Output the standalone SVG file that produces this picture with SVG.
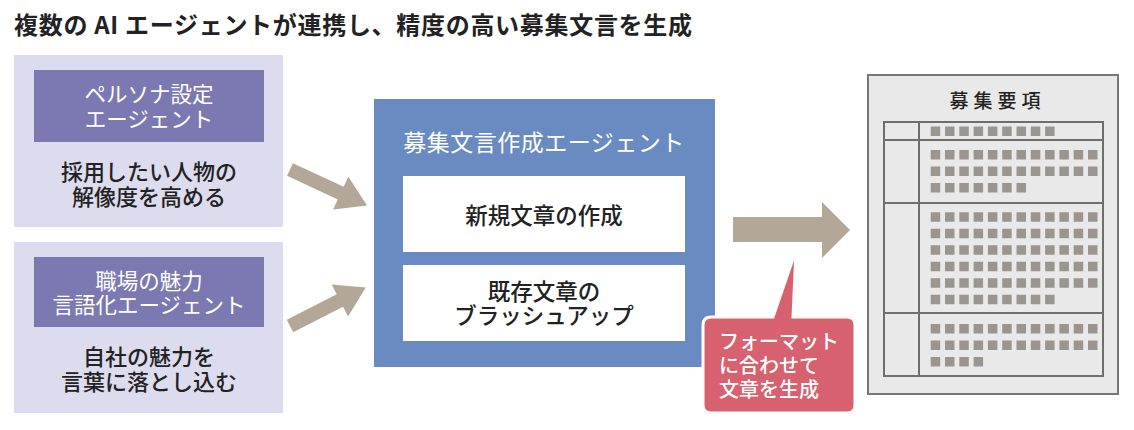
<svg xmlns="http://www.w3.org/2000/svg" width="1134" height="430" viewBox="0 0 1134 430">
<style>
text{font-family:"Noto Sans CJK JP","Noto Sans",sans-serif;}
.title{font-size:24px;font-weight:bold;fill:#222;letter-spacing:0.7px;}
.outer{fill:#dddbee;}
.hdr{fill:#7c79b2;}
.hdrt{font-size:21.5px;fill:#fff;text-anchor:middle;}
.body{font-size:22px;fill:#222;text-anchor:middle;font-weight:500;}
.blue{fill:#6a8bc2;}
.wbox{fill:#fff;}
.ctitle{font-size:23px;fill:#fff;text-anchor:middle;letter-spacing:0.5px;}
.wt{font-size:22.5px;fill:#222;text-anchor:middle;font-weight:500;}
.arrow{fill:#b3a797;}
.callout{fill:#d7616e;stroke:#fff;stroke-width:3;}
.ct{font-size:20px;fill:#fff;font-weight:500;}
.doc{fill:#e9e9e9;stroke:#777;stroke-width:2;}
.tl{fill:none;stroke:#6e6e6e;stroke-width:2;}
.sq{stroke:#9b958f;stroke-width:9.5;stroke-dasharray:9.5 4.8;fill:none;}
.dt{font-size:19px;fill:#222;text-anchor:middle;letter-spacing:5px;font-weight:500;}
</style>
<rect width="1134" height="430" fill="#fff"/>
<text class="title" x="14" y="34">複数の AI エージェントが連携し、精度の高い募集文言を生成</text>

<g id="persona">
<rect class="outer" x="14" y="55" width="269" height="172"/>
<rect class="hdr" x="34" y="70" width="230" height="72"/>
<text class="hdrt" x="149" y="102">ペルソナ設定</text>
<text class="hdrt" x="149" y="127">エージェント</text>
<text class="body" x="149" y="180">採用したい人物の</text>
<text class="body" x="149" y="205">解像度を高める</text>
</g>

<g id="workplace">
<rect class="outer" x="14" y="242" width="269" height="171"/>
<rect class="hdr" x="34" y="257" width="230" height="70"/>
<text class="hdrt" x="149" y="289">職場の魅力</text>
<text class="hdrt" x="149" y="313">言語化エージェント</text>
<text class="body" x="149" y="365">自社の魅力を</text>
<text class="body" x="149" y="390">言葉に落とし込む</text>
</g>

<g id="writer">
<rect class="blue" x="374" y="99" width="341" height="268"/>
<text class="ctitle" x="544" y="151">募集文言作成エージェント</text>
<rect class="wbox" x="403" y="176" width="282" height="76"/>
<text class="wt" x="544" y="224">新規文章の作成</text>
<rect class="wbox" x="403" y="265" width="282" height="76"/>
<text class="wt" x="544" y="300">既存文章の</text>
<text class="wt" x="544" y="324">ブラッシュアップ</text>
</g>

<g id="connectors">
<polygon class="arrow" transform="translate(290,169.5) rotate(25)" points="0,-7 56,-7 56,-18 85,0 56,18 56,7 0,7"/>
<polygon class="arrow" transform="translate(290,326) rotate(-27)" points="0,-7 56,-7 56,-18 85,0 56,18 56,7 0,7"/>
<polygon class="arrow" points="733,217 822,217 822,202 850,230 822,258 822,242 733,242"/>
</g>

<g id="callout">
<path class="callout" d="M711,317 L773,317 L796,250 L793,317 L847,317 Q855,317 855,325 L855,405 Q855,413 847,413 L711,413 Q703,413 703,405 L703,325 Q703,317 711,317 Z"/>
<text class="ct" x="719" y="349">フォーマット</text>
<text class="ct" x="719" y="373">に合わせて</text>
<text class="ct" x="719" y="397">文章を生成</text>
</g>

<g id="document">
<rect class="doc" x="868" y="75" width="250" height="319"/>
<text class="dt" x="997.5" y="108">募集要項</text>
<rect class="tl" x="884" y="122" width="219" height="254"/>
<line class="tl" x1="919" y1="122" x2="919" y2="376"/>
<line class="tl" x1="884" y1="140" x2="1103" y2="140"/>
<line class="tl" x1="884" y1="203" x2="1103" y2="203"/>
<line class="tl" x1="884" y1="313" x2="1103" y2="313"/>
<line class="sq" x1="930.7" y1="131.3" x2="1054.6" y2="131.3"/>
<line class="sq" x1="930.7" y1="154.7" x2="1097.5" y2="154.7"/>
<line class="sq" x1="930.7" y1="171.2" x2="1097.5" y2="171.2"/>
<line class="sq" x1="930.7" y1="187.7" x2="1026" y2="187.7"/>
<line class="sq" x1="930.7" y1="217" x2="1097.5" y2="217"/>
<line class="sq" x1="930.7" y1="233.5" x2="1097.5" y2="233.5"/>
<line class="sq" x1="930.7" y1="250" x2="1097.5" y2="250"/>
<line class="sq" x1="930.7" y1="266.5" x2="1097.5" y2="266.5"/>
<line class="sq" x1="930.7" y1="283" x2="1097.5" y2="283"/>
<line class="sq" x1="930.7" y1="299.5" x2="1054.6" y2="299.5"/>
<line class="sq" x1="930.7" y1="328.7" x2="1097.5" y2="328.7"/>
<line class="sq" x1="930.7" y1="345.2" x2="1097.5" y2="345.2"/>
<line class="sq" x1="930.7" y1="361.7" x2="983.1" y2="361.7"/>
</g>
</svg>
